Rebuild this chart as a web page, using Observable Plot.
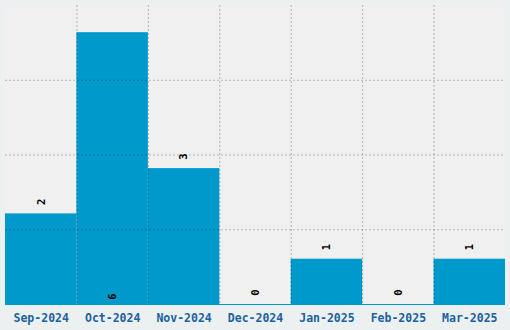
<!DOCTYPE html>
<html>
<head>
<meta charset="utf-8">
<script src="https://cdn.jsdelivr.net/npm/d3@7"></script>
<script src="https://cdn.jsdelivr.net/npm/@observablehq/plot@0.6"></script>
<style>
  html, body { margin: 0; padding: 0; background: #ecf0f1; }
  #chart svg { display: block; }
  #chart svg text { font-family: "DejaVu Sans Mono", "Liberation Mono", monospace !important; }
</style>
</head>
<body>
<div id="chart"></div>
<script>
const months = ["Sep-2024", "Oct-2024", "Nov-2024", "Dec-2024", "Jan-2025", "Feb-2025", "Mar-2025"];
const counts = [2, 6, 3, 0, 1, 0, 1];

const data = months.map((m, i) => ({month: m, value: counts[i]}));
const maxV = d3.max(counts);
const yMax = maxV * 1.1;
const gridY = [1, 2, 3].map(i => yMax * i / 4);

const W = 510, H = 330;
const mL = 5, mR = 5, mT = 5, mB = 26;
const band = (W - mL - mR) / months.length;

const topData = data.filter(d => d.value === maxV);
const restData = data.filter(d => d.value !== maxV);

const labelOpts = {
  x: "month",
  text: d => String(d.value),
  rotate: -90,
  fill: "#000",
  fontWeight: "bold",
  fontSize: 10.5,
  textAnchor: "middle",
  lineAnchor: "middle"
};

const chart = Plot.plot({
  width: W,
  height: H,
  marginLeft: mL,
  marginRight: mR,
  marginTop: mT,
  marginBottom: mB,
  style: {background: "#ecf0f1"},
  x: {domain: months, padding: 0, round: false, axis: null},
  y: {domain: [0, yMax], axis: null},
  marks: [
    Plot.frame({fill: "#f0f0f0", stroke: null}),
    Plot.barY(data, {x: "month", y: "value", fill: "#0099cc"}),
    Plot.ruleY([0], {stroke: "#0099cc", strokeWidth: 1}),
    Plot.ruleY(gridY, {stroke: "#000", strokeOpacity: 0.25, strokeDasharray: "2,2"}),
    Plot.ruleX(months.slice(1), {x: d => d, dx: -band / 2, stroke: "#000", strokeOpacity: 0.25, strokeDasharray: "2,2"}),
    Plot.text(restData, {...labelOpts, y: "value", dy: -12}),
    Plot.text(topData, {...labelOpts, y: () => 0, dy: -8}),
    Plot.axisX({
      tickSize: 0,
      tickPadding: 9,
      fontWeight: "bold",
      fontSize: 11.5,
      fill: "#1a62a0",
      label: null
    })
  ]
});

document.getElementById("chart").appendChild(chart);
</script>
</body>
</html>
